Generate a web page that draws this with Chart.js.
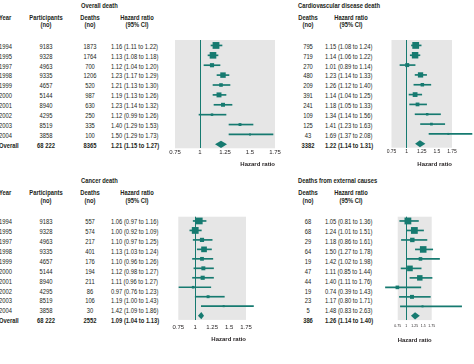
<!DOCTYPE html>
<html>
<head>
<meta charset="utf-8">
<script src="https://cdn.jsdelivr.net/npm/chart.js@4.4.0/dist/chart.umd.min.js"></script>
<style>
  body { margin: 0; background: #fff; }
  #wrap {
    position: relative; width: 474px; height: 364px; overflow: hidden;
    font-family: "Liberation Sans", Arial, sans-serif;
    font-size: 7px; color: #231f20;
  }
  /* the original uses a condensed face; squeeze the text horizontally */
  .t { position: absolute; white-space: nowrap; line-height: 1; transform-origin: 0 50%; transform: translateY(-50%) scaleX(0.83); }
  .c { transform-origin: 50% 50%; transform: translate(-50%, -50%) scaleX(0.83); }
  .b { font-weight: bold; }
  .box { position: absolute; }
</style>
</head>
<body>
<div id="wrap"></div>
<script>
// ---- data ----
const years = ["1994", "1995", "1997", "1998", "1999", "2000", "2001", "2002", "2003", "2004"];
const participants = ["9183", "9328", "4963", "9335", "4657", "5144", "8940", "4295", "8519", "3858"];
const participantsTotal = "68 222";

const allDeaths = [1873, 1764, 700, 1206, 520, 987, 630, 250, 335, 100];
const allHR = [1.16, 1.13, 1.12, 1.23, 1.21, 1.19, 1.23, 1.12, 1.40, 1.50];
const allLo = [1.11, 1.08, 1.04, 1.17, 1.13, 1.13, 1.14, 0.99, 1.29, 1.29];
const allHi = [1.22, 1.18, 1.20, 1.29, 1.30, 1.26, 1.32, 1.26, 1.53, 1.73];
const allOverall = [8365, 1.21, 1.15, 1.27];

const cvdDeaths = [795, 719, 270, 480, 209, 391, 241, 109, 125, 43];
const cvdHR = [1.15, 1.14, 1.01, 1.23, 1.26, 1.14, 1.18, 1.34, 1.41, 1.69];
const cvdLo = [1.08, 1.06, 0.89, 1.14, 1.12, 1.04, 1.05, 1.14, 1.23, 1.37];
const cvdHi = [1.24, 1.22, 1.14, 1.33, 1.40, 1.25, 1.33, 1.56, 1.63, 2.08];
const cvdOverall = [3382, 1.22, 1.14, 1.31];

const cancerDeaths = [557, 574, 217, 401, 176, 194, 211, 86, 106, 30];
const cancerHR = [1.06, 1.00, 1.10, 1.13, 1.10, 1.12, 1.11, 0.97, 1.19, 1.42];
const cancerLo = [0.97, 0.92, 0.97, 1.03, 0.96, 0.98, 0.96, 0.76, 1.00, 1.09];
const cancerHi = [1.16, 1.09, 1.25, 1.24, 1.26, 1.27, 1.27, 1.23, 1.43, 1.86];
const cancerOverall = [2552, 1.09, 1.04, 1.13];

const extDeaths = [68, 68, 29, 64, 19, 47, 44, 19, 23, 5];
const extHR = [1.05, 1.24, 1.18, 1.50, 1.42, 1.11, 1.40, 0.74, 1.17, 1.48];
const extLo = [0.81, 1.01, 0.86, 1.27, 1.02, 0.85, 1.11, 0.39, 0.80, 0.83];
const extHi = [1.36, 1.51, 1.61, 1.78, 1.98, 1.44, 1.76, 1.43, 1.71, 2.63];
const extOverall = [386, 1.26, 1.14, 1.40];

const axisTicks = [0.75, 1, 1.25, 1.5, 1.75];

// ---- look ----
const teal = "#167a70";
const panelGray = "#e6e6e6";
const textColor = "#231f20";
const fontFamily = '"Liberation Sans", Arial, sans-serif';

const wrap = document.getElementById("wrap");

function fmt(v) { return v.toFixed(2); }

function addText(str, x, y, cls) {
  const d = document.createElement("div");
  d.className = "t " + (cls || "");
  d.style.left = x + "px";
  d.style.top = y + "px";
  d.textContent = str;
  wrap.appendChild(d);
}

// grey plot background
const bgPlugin = {
  id: "bg",
  beforeDraw(chart) {
    const a = chart.chartArea;
    const ctx = chart.ctx;
    ctx.save();
    ctx.fillStyle = panelGray;
    ctx.fillRect(a.left, a.top, a.right - a.left, a.bottom - a.top);
    ctx.restore();
  },
};

// pooled estimate diamond
const diamondPlugin = {
  id: "diamond",
  afterDatasetsDraw(chart, args, opts) {
    const xs = chart.scales.x, ys = chart.scales.y;
    const y = ys.getPixelForValue(opts.row);
    const ctx = chart.ctx;
    ctx.save();
    ctx.fillStyle = teal;
    ctx.beginPath();
    ctx.moveTo(xs.getPixelForValue(opts.lo), y);
    ctx.lineTo(xs.getPixelForValue(opts.hr), y - 3.6);
    ctx.lineTo(xs.getPixelForValue(opts.hi), y);
    ctx.lineTo(xs.getPixelForValue(opts.hr), y + 3.6);
    ctx.closePath();
    ctx.fill();
    ctx.restore();
  },
};

function drawPanel(p) {
  const top = p.dy;
  const rowY = (i) => top + 45.7 + i * 9.93;

  // title + headers
  addText(p.title, p.cols.title, top + 4.5, "b");
  if (p.cols.year !== undefined) {
    addText("Year", p.cols.year, top + 16.7, "b");
    addText("Participants", p.cols.part, top + 16.7, "b c");
    addText("(no)", p.cols.part, top + 24.3, "b c");
  }
  addText("Deaths", p.cols.deaths, top + 16.7, "b c");
  addText("(no)", p.cols.deaths, top + 24.3, "b c");
  addText("Hazard ratio", p.cols.hr + 26, top + 16.7, "b c");
  addText("(95% CI)", p.cols.hr + 26, top + 24.3, "b c");

  // rows
  years.forEach((yr, i) => {
    if (p.cols.year !== undefined) {
      addText(yr, p.cols.year, rowY(i));
      addText(participants[i], p.cols.part, rowY(i), "c");
    }
    addText(String(p.deaths[i]), p.cols.deaths, rowY(i), "c");
    addText(`${fmt(p.hr[i])} (${fmt(p.lo[i])} to ${fmt(p.hi[i])})`, p.cols.hr, rowY(i));
  });
  const [tot, ohr, olo, ohi] = p.overall;
  if (p.cols.year !== undefined) {
    addText("Overall", p.cols.year, rowY(10), "b");
    addText(participantsTotal, p.cols.part, rowY(10), "b c");
  }
  addText(String(tot), p.cols.deaths, rowY(10), "b c");
  addText(`${fmt(ohr)} (${fmt(olo)} to ${fmt(ohi)})`, p.cols.hr, rowY(10), "b");

  // forest plot
  const box = document.createElement("div");
  box.className = "box";
  box.style.left = p.box.x + "px";
  box.style.top = p.box.y + "px";
  const canvas = document.createElement("canvas");
  canvas.width = p.box.w;
  canvas.height = p.box.h;
  box.appendChild(canvas);
  wrap.appendChild(box);

  const a = p.area; // target chart area in page coords
  const axisH = p.tickPad + p.tickSize * 1.2 + p.titleTop + 6 * 1.2;
  const padBottom = p.box.y + p.box.h - a.bottom - axisH;
  const maxD = Math.max(...p.deaths);
  const sizes = p.deaths.map((d) => Math.max(2, 6.8 * Math.sqrt(d / maxD)) / Math.SQRT2);

  new Chart(canvas, {
    data: {
      datasets: [
        {
          type: "scatter",
          data: p.hr.map((v, i) => ({ x: v, y: i + 1 })),
          pointStyle: "rect",
          pointRadius: sizes,
          backgroundColor: teal,
          borderWidth: 0,
          order: 0,
          clip: false,
        },
        {
          type: "bar",
          indexAxis: "y",
          data: p.lo.map((v, i) => ({ x: [v, p.hi[i]], y: i + 1 })),
          backgroundColor: teal,
          barThickness: 1,
          order: 1,
          clip: false,
        },
      ],
    },
    options: {
      responsive: false,
      animation: false,
      events: [],
      layout: {
        padding: {
          left: a.left - p.box.x,
          right: p.box.x + p.box.w - a.right,
          top: a.top - p.box.y,
          bottom: padBottom,
        },
      },
      scales: {
        x: {
          type: "linear",
          offset: false,
          min: axisTicks[0],
          max: axisTicks[axisTicks.length - 1],
          afterBuildTicks: (s) => { s.ticks = axisTicks.map((v) => ({ value: v })); },
          border: { display: false },
          grid: {
            offset: false,
            drawTicks: false,
            lineWidth: 1,
            color: (c) => (c.tick && c.tick.value === 1 ? teal : "rgba(0,0,0,0)"),
          },
          ticks: {
            autoSkip: false,
            maxRotation: 0,
            padding: p.tickPad,
            color: textColor,
            font: { family: fontFamily, size: p.tickSize },
            callback: (v) => String(+Number(v).toFixed(2)),
          },
          title: {
            display: true,
            text: "Hazard ratio",
            align: "end",
            color: textColor,
            font: { family: fontFamily, size: 6, weight: "bold" },
            padding: { top: p.titleTop, bottom: 0 },
          },
        },
        y: {
          type: "linear",
          display: false,
          offset: false,
          grid: { offset: false },
          reverse: true,
          min: p.yMin,
          max: p.yMax,
        },
      },
      plugins: {
        legend: { display: false },
        tooltip: { enabled: false },
        diamond: { row: 11, hr: ohr, lo: olo, hi: ohi },
      },
    },
    plugins: [bgPlugin, diamondPlugin],
  });
}

const panels = [
  {
    title: "Overall death", deaths: allDeaths, hr: allHR, lo: allLo, hi: allHi, overall: allOverall,
    dy: 0, cols: { year: -1, part: 45.5, deaths: 90, hr: 111, title: 80.5 },
    box: { x: 160, y: 34, w: 125, h: 142 }, area: { left: 175, right: 275, top: 40, bottom: 149 },
    yMin: 0.45, yMax: 11.4, tickSize: 6, tickPad: 0.7, titleTop: 3.4,
  },
  {
    title: "Cardiovascular disease death", deaths: cvdDeaths, hr: cvdHR, lo: cvdLo, hi: cvdHi, overall: cvdOverall,
    dy: 0, cols: { deaths: 307.5, hr: 325, title: 297.5 },
    box: { x: 380, y: 34, w: 94, h: 142 }, area: { left: 391.5, right: 452, top: 40, bottom: 149 },
    yMin: 0.45, yMax: 11.4, tickSize: 5, tickPad: 1.3, titleTop: 4.3,
  },
  {
    title: "Cancer death", deaths: cancerDeaths, hr: cancerHR, lo: cancerLo, hi: cancerHi, overall: cancerOverall,
    dy: 175.3, cols: { year: -1, part: 45.5, deaths: 90, hr: 111, title: 80.5 },
    box: { x: 160, y: 210, w: 125, h: 144 }, area: { left: 178.3, right: 246, top: 216.7, bottom: 324 },
    yMin: 0.55, yMax: 11.45, tickSize: 6, tickPad: 4.1, titleTop: 0.8,
  },
  {
    title: "Deaths from external causes", deaths: extDeaths, hr: extHR, lo: extLo, hi: extHi, overall: extOverall,
    dy: 175.3, cols: { deaths: 307.5, hr: 325, title: 297.5 },
    box: { x: 380, y: 210, w: 94, h: 144 }, area: { left: 397.7, right: 431.7, top: 216.7, bottom: 324 },
    yMin: 0.55, yMax: 11.45, tickSize: 3.5, tickPad: 3.9, titleTop: 4.2,
  },
];

panels.forEach(drawPanel);
</script>
</body>
</html>
